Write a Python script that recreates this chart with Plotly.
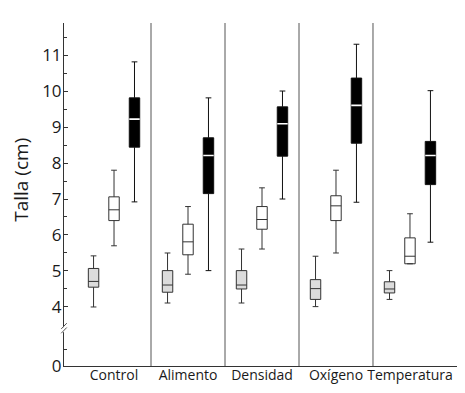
import plotly.graph_objects as go

categories = ["Control", "Alimento", "Densidad", "Oxígeno", "Temperatura"]

# light gray series
g_low = [4.00, 4.11, 4.11, 4.01, 4.21]
g_q1 = [4.55, 4.41, 4.50, 4.21, 4.39]
g_med = [4.71, 4.61, 4.61, 4.51, 4.50]
g_q3 = [5.07, 5.01, 5.01, 4.76, 4.70]
g_high = [5.42, 5.50, 5.61, 5.41, 5.01]

# white series
w_low = [5.70, 4.91, 5.61, 5.50, 5.20]
w_q1 = [6.40, 5.45, 6.16, 6.40, 5.20]
w_med = [6.70, 5.81, 6.43, 6.81, 5.41]
w_q3 = [7.06, 6.30, 6.79, 7.09, 5.92]
w_high = [7.80, 6.79, 7.31, 7.80, 6.59]

# black series
b_low = [6.92, 5.01, 7.00, 6.91, 5.80]
b_q1 = [8.44, 7.15, 8.19, 8.55, 7.40]
b_med = [9.22, 8.21, 9.09, 9.60, 8.21]
b_q3 = [9.81, 8.70, 9.56, 10.36, 8.60]
b_high = [10.81, 9.81, 10.00, 11.30, 10.01]

y_tick_vals = [4, 5, 6, 7, 8, 9, 10, 11]
y_tick_text = ["4", "5", "6", "7", "8", "9", "10", "11"]
ZERO_POS = 2.36  # axis position where the broken axis shows "0"

FONT = "Open Sans"
TXT = "#1a1a1a"

fig = go.Figure()

def add_box(name, q1, med, q3, lo, hi, fill, line, group, lw=1.0):
    fig.add_trace(go.Box(
        x=categories, q1=q1, median=med, q3=q3, lowerfence=lo, upperfence=hi,
        name=name, fillcolor=fill, line=dict(color=line, width=lw),
        whiskerwidth=0.55, boxpoints=False, offsetgroup=group,
        hoverinfo="skip", showlegend=False, orientation="v",
    ))

add_box("gris", g_q1, g_med, g_q3, g_low, g_high, "#dcdcdc", "#333333", "a")
add_box("blanco", w_q1, w_med, w_q3, w_low, w_high, "#ffffff", "#333333", "b")
add_box("negro", b_q1, b_med, b_q3, b_low, b_high, "#000000", "#111111", "c")
# white median line for black boxes
add_box("mediana", b_med, b_med, b_med, b_med, b_med, "rgba(0,0,0,0)", "#ffffff", "c", lw=1.6)

shapes = []
for i in range(len(categories) - 1):
    shapes.append(dict(type="line", xref="x", yref="paper", x0=i + 0.5, x1=i + 0.5,
                       y0=0, y1=1, line=dict(color="#555555", width=1)))
# axis break
shapes.append(dict(type="rect", xref="paper", yref="y", x0=-0.006, x1=0.006,
                   y0=3.30, y1=3.44, fillcolor="white", line=dict(width=0), layer="above"))
for yb in (3.27, 3.39):
    shapes.append(dict(type="line", xref="paper", yref="y", x0=-0.007, x1=0.007,
                       y0=yb, y1=yb + 0.16, line=dict(color="#555555", width=1), layer="above"))

fig.update_layout(
    width=465, height=393,
    margin=dict(l=56, r=13, t=15, b=35),
    paper_bgcolor="white", plot_bgcolor="white",
    boxmode="group", boxgap=0.17, boxgroupgap=0.49,
    font=dict(family=FONT, color=TXT),
    shapes=shapes,
    xaxis=dict(
        type="category", range=[-0.676, 4.676], showline=True, linecolor="#333333",
        linewidth=1, ticks="", showgrid=False, zeroline=False, ticklabelstandoff=-4,
        tickfont=dict(size=14, family=FONT, color=TXT),
    ),
    yaxis=dict(
        range=[2.36, 11.89], showline=True, linecolor="#333333", linewidth=1,
        showgrid=False, zeroline=False, ticks="inside", ticklen=4, tickcolor="#333333",
        tickmode="array", tickvals=[ZERO_POS] + y_tick_vals, ticktext=["0"] + y_tick_text,
        tickfont=dict(size=17, family=FONT, color=TXT), ticklabelstandoff=-2,
        minor=dict(tickmode="array", tickvals=[2.825, 4.5, 5.5, 6.5, 7.5, 8.5, 9.5, 10.5, 11.5],
                   ticks="inside", ticklen=3, tickcolor="#333333"),
    ),
    annotations=[dict(text="Talla (cm)", textangle=-90, xref="paper", yref="y",
                      x=-0.109, y=7.53, xanchor="center", yanchor="middle", showarrow=False,
                      font=dict(size=19, family=FONT, color=TXT))],
)

fig.write_html("out.html")
